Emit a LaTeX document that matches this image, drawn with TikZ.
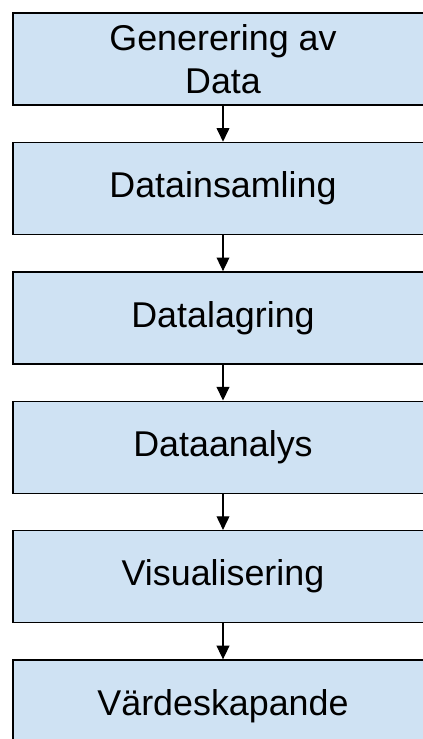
\documentclass[tikz,border=0pt]{standalone}
\usepackage{fontspec}
\setmainfont{Liberation Sans}
\usepackage{xcolor}
\usetikzlibrary{arrows.meta, positioning}
\definecolor{boxblue}{RGB}{207,226,243}

\begin{document}
\begin{tikzpicture}[
    node distance=0.9cm,
    stage/.style={
        draw=black,
        line width=1pt,
        fill=boxblue,
        minimum width=10.5cm,
        minimum height=2.3cm,
        align=center,
        font=\fontsize{25.5pt}{30.5pt}\selectfont
    },
    flow/.style={
        line width=0.8pt,
        -{Triangle[length=0.34cm, width=0.32cm]}
    }
]
\useasboundingbox (0,0) rectangle (10.575,-18.475);
\clip (0,0) rectangle (10.575,-18.475);

% Stages
\node[stage] (gen) at (5.575,-1.475) {Generering av\\Data};
\node[stage, below=of gen] (collect) {Datainsamling};
\node[stage, below=of collect] (store) {Datalagring};
\node[stage, below=of store] (analysis) {Dataanalys};
\node[stage, below=of analysis] (visual) {Visualisering};
\node[stage, below=of visual] (value) {Värdeskapande};

% Flow
\path[flow]
    (gen) edge (collect)
    (collect) edge (store)
    (store) edge (analysis)
    (analysis) edge (visual)
    (visual) edge (value);
\end{tikzpicture}
\end{document}
